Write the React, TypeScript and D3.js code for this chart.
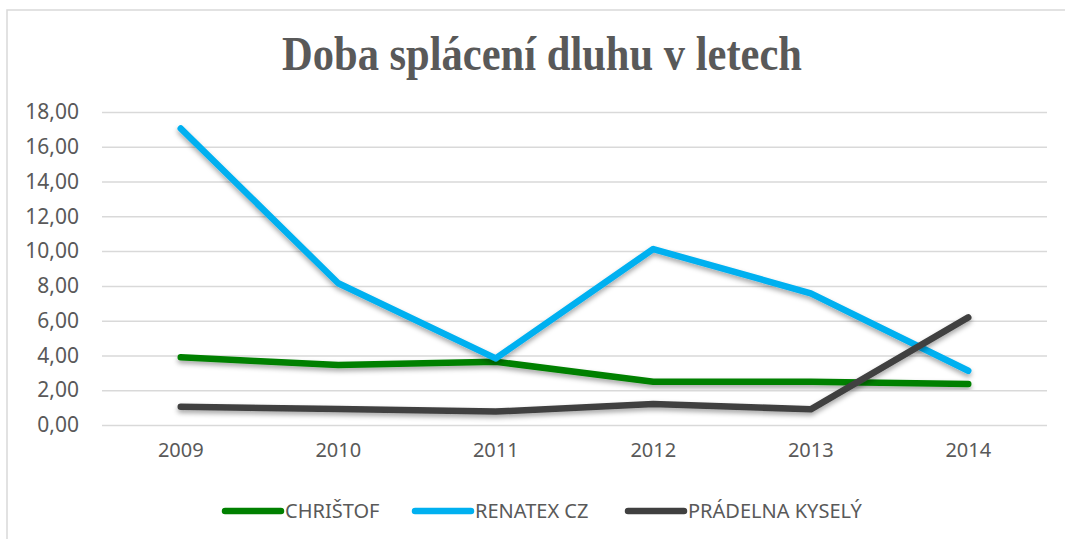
import React, { useRef, useEffect } from "react";
import * as d3 from "d3";

const W = 1065;
const H = 539;
const MARGIN = { top: 112, right: 18, bottom: 114, left: 102 };

const years = ["2009", "2010", "2011", "2012", "2013", "2014"];
const christof = [3.89, 3.45, 3.64, 2.49, 2.49, 2.36];
const renatex = [17.05, 8.15, 3.83, 10.12, 7.57, 3.12];
const kysely = [1.05, 0.92, 0.77, 1.21, 0.9, 6.19];
const yTicks = [0, 2, 4, 6, 8, 10, 12, 14, 16, 18];

const seriesNames = ["CHRIŠTOF", "RENATEX CZ", "PRÁDELNA KYSELÝ"];
const seriesColors = ["#008000", "#00B0F0", "#404040"];
const seriesValues = [christof, renatex, kysely];

const TEXT_COLOR = "#595959";
const GRID_COLOR = "#d9d9d9";
const FONT = "'Noto Sans', 'Open Sans', sans-serif";

export default function App() {
  const svgRef = useRef<SVGSVGElement>(null);

  useEffect(() => {
    const svg = d3.select(svgRef.current);
    svg.selectAll("*").remove();

    const innerW = W - MARGIN.left - MARGIN.right;
    const innerH = H - MARGIN.top - MARGIN.bottom;

    // shadow under the lines
    const defs = svg.append("defs");
    defs
      .append("filter")
      .attr("id", "shadow")
      .attr("x", "-10%")
      .attr("y", "-10%")
      .attr("width", "120%")
      .attr("height", "130%")
      .append("feDropShadow")
      .attr("dx", 0)
      .attr("dy", 3)
      .attr("stdDeviation", 2.5)
      .attr("flood-color", "#000")
      .attr("flood-opacity", 0.35);

    svg.append("rect").attr("width", W).attr("height", H).attr("fill", "#fff");

    // chart border (top + left visible)
    svg
      .append("rect")
      .attr("x", 7)
      .attr("y", 10)
      .attr("width", W + 20)
      .attr("height", H + 20)
      .attr("fill", "none")
      .attr("stroke", GRID_COLOR)
      .attr("stroke-width", 1.5);

    // Title
    svg
      .append("text")
      .attr("x", 542)
      .attr("y", 70)
      .attr("text-anchor", "middle")
      .attr("font-family", "'Liberation Serif', 'Times New Roman', serif")
      .attr("font-weight", "bold")
      .attr("font-size", 48)
      .attr("fill", TEXT_COLOR)
      .attr("textLength", 520)
      .attr("lengthAdjust", "spacingAndGlyphs")
      .text("Doba splácení dluhu v letech");

    const g = svg
      .append("g")
      .attr("transform", `translate(${MARGIN.left},${MARGIN.top})`);

    const x = d3.scaleBand().domain(years).range([0, innerW]);
    const y = d3.scaleLinear().domain([0, 18]).range([innerH, 0]);

    // Grid
    g.append("g")
      .call(
        d3
          .axisLeft(y)
          .tickValues(yTicks)
          .tickSize(-innerW)
          .tickFormat(() => ""),
      )
      .call((gr) => gr.select(".domain").remove())
      .call((gr) =>
        gr.selectAll("line").attr("stroke", GRID_COLOR).attr("stroke-width", 1.5),
      );

    // Y labels
    const yAxisG = g.append("g").call(
      d3
        .axisLeft(y)
        .tickValues(yTicks)
        .tickSize(0)
        .tickPadding(23)
        .tickFormat((v) => d3.format(".2f")(v as number).replace(".", ",")),
    );
    yAxisG.select(".domain").remove();
    yAxisG
      .selectAll("text")
      .attr("font-size", 21)
      .attr("font-family", FONT)
      .attr("fill", TEXT_COLOR);

    // X labels
    const xAxisG = g
      .append("g")
      .attr("transform", `translate(0,${innerH})`)
      .call(d3.axisBottom(x).tickSize(0).tickPadding(18));
    xAxisG.select(".domain").remove();
    xAxisG
      .selectAll("text")
      .attr("font-size", 20)
      .attr("font-family", FONT)
      .attr("fill", TEXT_COLOR);

    // Lines
    const line = d3
      .line<number>()
      .x((_, i) => (x(years[i]) as number) + x.bandwidth() / 2)
      .y((d) => y(d));

    seriesValues.forEach((vals, i) => {
      g.append("path")
        .datum(vals)
        .attr("fill", "none")
        .attr("stroke", seriesColors[i])
        .attr("stroke-width", 6.5)
        .attr("stroke-linecap", "round")
        .attr("stroke-linejoin", "round")
        .attr("filter", "url(#shadow)")
        .attr("d", line);
    });

    // Legend
    const legendX = [225, 415, 628];
    const legendY = 511;
    seriesNames.forEach((name, i) => {
      const lg = svg.append("g").attr("transform", `translate(${legendX[i]},${legendY})`);
      lg.append("line")
        .attr("x1", 0)
        .attr("x2", 56)
        .attr("stroke", seriesColors[i])
        .attr("stroke-width", 6.5)
        .attr("stroke-linecap", "round");
      lg.append("text")
        .attr("x", 60)
        .attr("dy", "0.35em")
        .attr("font-size", 20)
        .attr("font-family", FONT)
        .attr("fill", TEXT_COLOR)
        .text(name);
    });
  }, []);

  return (
    <div style={{ position: "absolute", left: 0, top: 0 }}>
      <svg ref={svgRef} width={W} height={H} style={{ display: "block" }} />
    </div>
  );
}
